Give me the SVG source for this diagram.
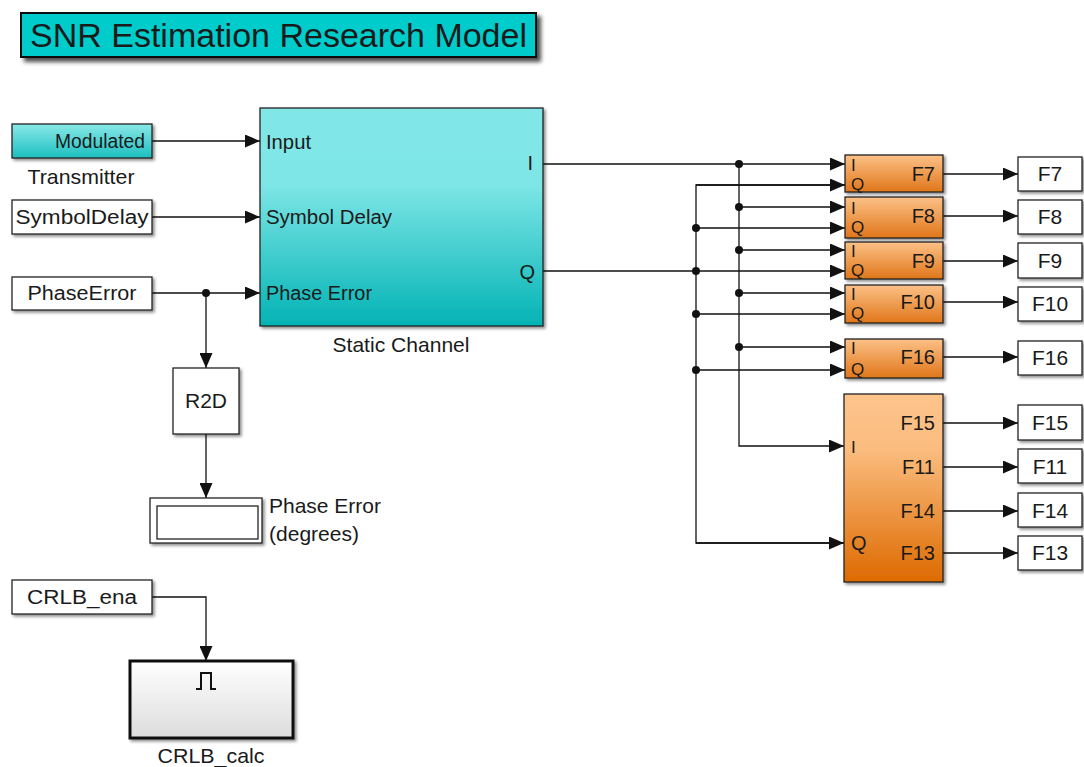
<svg xmlns="http://www.w3.org/2000/svg" width="1084" height="767" viewBox="0 0 1084 767">
<defs>
<style>
text{font-family:"Liberation Sans",Arial,sans-serif;fill:#1a1a1a}
.blk{stroke:#222;stroke-width:1.3}
.wht{fill:#fff;stroke:#222;stroke-width:1.3}
.t19{font-size:20px}
.t20{font-size:21px}
.t17{font-size:17px}
.mid{text-anchor:middle}
.end{text-anchor:end}
.ln{fill:none;stroke:#111;stroke-width:1.3}
.ar{fill:none;stroke:#111;stroke-width:1.3;marker-end:url(#ah)}
.dot{fill:#111}
</style>
<marker id="ah" viewBox="0 0 15 13" refX="15" refY="6.5" markerWidth="15" markerHeight="13" markerUnits="userSpaceOnUse" orient="auto">
<path d="M0,0 L15,6.5 L0,13 z" fill="#111"/>
</marker>
<filter id="sh" x="-10%" y="-10%" width="130%" height="130%">
<feDropShadow dx="2" dy="2" stdDeviation="1.5" flood-color="#000" flood-opacity="0.45"/>
</filter>
<filter id="tsh" x="-10%" y="-20%" width="130%" height="160%">
<feDropShadow dx="4" dy="4" stdDeviation="2" flood-color="#000" flood-opacity="0.7"/>
</filter>
<linearGradient id="gcy" x1="0" y1="0" x2="0" y2="1">
<stop offset="0" stop-color="#82e6e7"/>
<stop offset="0.35" stop-color="#7ee6e6"/>
<stop offset="1" stop-color="#03b3b5"/>
</linearGradient>
<linearGradient id="gcy2" x1="0" y1="0" x2="0" y2="1">
<stop offset="0" stop-color="#8ae8e8"/>
<stop offset="1" stop-color="#1cbfc0"/>
</linearGradient>
<linearGradient id="gor" x1="0" y1="0" x2="0" y2="1">
<stop offset="0" stop-color="#fdc48c"/>
<stop offset="0.3" stop-color="#fbbc7e"/>
<stop offset="1" stop-color="#dd6a00"/>
</linearGradient>
<linearGradient id="gor2" x1="0" y1="0" x2="0" y2="1">
<stop offset="0" stop-color="#fcc187"/>
<stop offset="1" stop-color="#e0761a"/>
</linearGradient>
<linearGradient id="ggr" x1="0" y1="0" x2="0" y2="1">
<stop offset="0" stop-color="#ffffff"/>
<stop offset="1" stop-color="#dcdcdc"/>
</linearGradient>
</defs>
<rect width="1084" height="767" fill="#fff"/>

<g id="title">
<rect x="21" y="13" width="515" height="44" fill="#00cccc" stroke="#111" stroke-width="2" filter="url(#tsh)"/>
<text x="278.5" y="47" class="mid" font-size="34" textLength="497" lengthAdjust="spacingAndGlyphs">SNR Estimation Research Model</text>
</g>

<g id="connectors">
<path class="ar" d="M152,141 H260"/>
<path class="ar" d="M152,217 H260"/>
<path class="ar" d="M152,293 H260"/>
<path class="ar" d="M206,293 V368"/>
<path class="ar" d="M206,434 V498"/>
<path class="ar" d="M152,597 H206 V661"/>
<path class="ar" d="M543,164 H845"/>
<path class="ar" d="M739,164 V446 H844"/>
<path class="ar" d="M739,207 H845"/>
<path class="ar" d="M739,250 H845"/>
<path class="ar" d="M739,293 H845"/>
<path class="ar" d="M739,347 H845"/>
<path class="ar" d="M543,271 H845"/>
<path class="ar" d="M845,185 H696 V543 H844" style="marker-end:none"/>
<path class="ar" d="M696,185 H845"/>
<path class="ar" d="M696,543 H844"/>
<path class="ar" d="M696,228 H845"/>
<path class="ar" d="M696,314 H845"/>
<path class="ar" d="M696,370 H845"/>
<path class="ar" d="M943,174 H1018"/>
<path class="ar" d="M943,216 H1018"/>
<path class="ar" d="M943,261 H1018"/>
<path class="ar" d="M943,302 H1018"/>
<path class="ar" d="M943,357 H1018"/>
<path class="ar" d="M943,423 H1018"/>
<path class="ar" d="M943,467 H1018"/>
<path class="ar" d="M943,511 H1018"/>
<path class="ar" d="M943,553 H1018"/>
<circle class="dot" cx="206" cy="293" r="4"/>
<circle class="dot" cx="739" cy="164" r="4"/>
<circle class="dot" cx="739" cy="207" r="4"/>
<circle class="dot" cx="739" cy="250" r="4"/>
<circle class="dot" cx="739" cy="293" r="4"/>
<circle class="dot" cx="739" cy="347" r="4"/>
<circle class="dot" cx="696" cy="228" r="4"/>
<circle class="dot" cx="696" cy="271" r="4"/>
<circle class="dot" cx="696" cy="314" r="4"/>
<circle class="dot" cx="696" cy="370" r="4"/>
</g>

<g id="transmitter">
<rect x="12" y="124" width="140" height="34" fill="url(#gcy2)" class="blk" filter="url(#sh)"/>
<text x="145" y="148" class="t19 end" textLength="90" lengthAdjust="spacingAndGlyphs">Modulated</text>
<text x="81" y="184" class="t20 mid" textLength="107" lengthAdjust="spacingAndGlyphs">Transmitter</text>
</g>

<g id="symboldelay">
<rect x="12" y="200" width="140" height="34" class="wht" filter="url(#sh)"/>
<text x="82" y="224" class="t19 mid" textLength="133" lengthAdjust="spacingAndGlyphs">SymbolDelay</text>
</g>

<g id="phaseerror">
<rect x="12" y="277" width="140" height="33" class="wht" filter="url(#sh)"/>
<text x="82" y="300" class="t19 mid" textLength="109" lengthAdjust="spacingAndGlyphs">PhaseError</text>
</g>

<g id="staticchannel">
<rect x="260" y="108" width="283" height="218" fill="url(#gcy)" class="blk" filter="url(#sh)"/>
<text x="266" y="149" class="t19" textLength="45" lengthAdjust="spacingAndGlyphs">Input</text>
<text x="266" y="224" class="t19" textLength="126" lengthAdjust="spacingAndGlyphs">Symbol Delay</text>
<text x="266" y="300" class="t19" textLength="106" lengthAdjust="spacingAndGlyphs">Phase Error</text>
<text x="533" y="170" class="t19 end">I</text>
<text x="535" y="279" class="t19 end">Q</text>
<text x="401" y="352" class="t20 mid" textLength="137" lengthAdjust="spacingAndGlyphs">Static Channel</text>
</g>

<g id="r2d">
<rect x="173" y="368" width="66" height="66" class="wht" filter="url(#sh)"/>
<text x="206" y="408" class="t20 mid">R2D</text>
</g>

<g id="display">
<rect x="150" y="498" width="112" height="45" class="wht" filter="url(#sh)"/>
<rect x="157" y="506" width="101" height="33" fill="none" stroke="#222" stroke-width="1.3"/>
<text x="269" y="513" class="t20" textLength="112" lengthAdjust="spacingAndGlyphs">Phase Error</text>
<text x="269" y="541" class="t20" textLength="90" lengthAdjust="spacingAndGlyphs">(degrees)</text>
</g>

<g id="crlbena">
<rect x="12" y="580" width="140" height="34" class="wht" filter="url(#sh)"/>
<text x="82" y="604" class="t19 mid" textLength="110" lengthAdjust="spacingAndGlyphs">CRLB_ena</text>
</g>

<g id="crlbcalc">
<rect x="130" y="661" width="163" height="77" fill="url(#ggr)" stroke="#111" stroke-width="3" filter="url(#sh)"/>
<path d="M196,689 H201 V673 H211 V689 H216" fill="none" stroke="#111" stroke-width="2"/>
<text x="211" y="763" class="t20 mid" textLength="107" lengthAdjust="spacingAndGlyphs">CRLB_calc</text>
</g>

<g id="f7blk">
<rect x="845" y="155" width="98" height="37" fill="url(#gor2)" class="blk" filter="url(#sh)"/>
<text x="851" y="171" class="t17">I</text>
<text x="851" y="190" class="t17">Q</text>
<text x="935" y="181" class="t19 end">F7</text>
</g>
<g id="f8blk">
<rect x="845" y="197" width="98" height="41" fill="url(#gor2)" class="blk" filter="url(#sh)"/>
<text x="851" y="214" class="t17">I</text>
<text x="851" y="233" class="t17">Q</text>
<text x="935" y="223" class="t19 end">F8</text>
</g>
<g id="f9blk">
<rect x="845" y="242" width="98" height="37" fill="url(#gor2)" class="blk" filter="url(#sh)"/>
<text x="851" y="257" class="t17">I</text>
<text x="851" y="276" class="t17">Q</text>
<text x="935" y="268" class="t19 end">F9</text>
</g>
<g id="f10blk">
<rect x="845" y="285" width="98" height="38" fill="url(#gor2)" class="blk" filter="url(#sh)"/>
<text x="851" y="300" class="t17">I</text>
<text x="851" y="319" class="t17">Q</text>
<text x="935" y="309" class="t19 end">F10</text>
</g>
<g id="f16blk">
<rect x="845" y="339" width="98" height="39" fill="url(#gor2)" class="blk" filter="url(#sh)"/>
<text x="851" y="354" class="t17">I</text>
<text x="851" y="375" class="t17">Q</text>
<text x="935" y="364" class="t19 end">F16</text>
</g>
<g id="bigblk">
<rect x="844" y="394" width="99" height="188" fill="url(#gor)" class="blk" filter="url(#sh)"/>
<text x="851" y="453" class="t17">I</text>
<text x="851" y="550" class="t19">Q</text>
<text x="935" y="430" class="t19 end">F15</text>
<text x="935" y="474" class="t19 end">F11</text>
<text x="935" y="518" class="t19 end">F14</text>
<text x="935" y="560" class="t19 end">F13</text>
</g>

<g id="outF7"><rect x="1018" y="157" width="64" height="34" class="wht" filter="url(#sh)"/><text x="1050" y="181" class="t20 mid">F7</text></g>
<g id="outF8"><rect x="1018" y="200" width="64" height="34" class="wht" filter="url(#sh)"/><text x="1050" y="224" class="t20 mid">F8</text></g>
<g id="outF9"><rect x="1018" y="243" width="64" height="35" class="wht" filter="url(#sh)"/><text x="1050" y="268" class="t20 mid">F9</text></g>
<g id="outF10"><rect x="1018" y="287" width="64" height="34" class="wht" filter="url(#sh)"/><text x="1050" y="311" class="t20 mid">F10</text></g>
<g id="outF16"><rect x="1018" y="341" width="64" height="34" class="wht" filter="url(#sh)"/><text x="1050" y="365" class="t20 mid">F16</text></g>
<g id="outF15"><rect x="1018" y="405" width="64" height="35" class="wht" filter="url(#sh)"/><text x="1050" y="430" class="t20 mid">F15</text></g>
<g id="outF11"><rect x="1018" y="449" width="64" height="34" class="wht" filter="url(#sh)"/><text x="1050" y="474" class="t20 mid">F11</text></g>
<g id="outF14"><rect x="1018" y="493" width="64" height="34" class="wht" filter="url(#sh)"/><text x="1050" y="518" class="t20 mid">F14</text></g>
<g id="outF13"><rect x="1018" y="536" width="64" height="34" class="wht" filter="url(#sh)"/><text x="1050" y="560" class="t20 mid">F13</text></g>
</svg>
